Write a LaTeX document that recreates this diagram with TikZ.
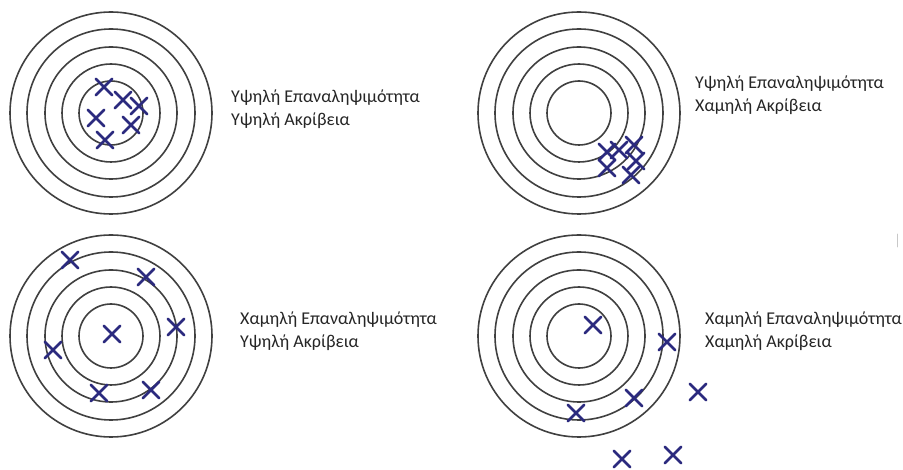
\documentclass[tikz,border=0pt]{standalone}
\usepackage{fontspec}
\setmainfont{Carlito}
\usetikzlibrary{shapes.misc}
\definecolor{trgRing}{HTML}{404040}
\definecolor{trgHit}{HTML}{2B2A7E}
\definecolor{trgText}{HTML}{262626}
\definecolor{trgTick}{HTML}{C8C8C8}
\begin{document}
\begin{tikzpicture}[x=1pt,y=-1pt,line cap=round,line join=round]
\path[fill=white] (0,0) rectangle (903,470);
\tikzset{ring/.style={draw=trgRing,line width=1.6pt},hit/.style={cross out,draw=trgHit,line width=2.8pt,minimum size=16.5pt,inner sep=0pt,outer sep=0pt},caption/.style={anchor=west,align=left,text=trgText,font=\fontsize{18}{23}\selectfont,inner sep=0pt}}
% four targets
\foreach \cx/\cy in {111/113,579/113,111/336,579/336}
  \foreach \r in {32,49,66,84,101}
    \draw[ring] (\cx,\cy) circle[radius=\r];
% hits, top left
\foreach \hx/\hy [count=\i] in {104/87,123/100,139/106,96/118,131/125,105/140}
  \node[hit] (hitA\i) at (\hx,\hy) {};
% hits, top right
\foreach \hx/\hy [count=\i] in {607/152,619/150,634/145,636/161,607/168,631/175}
  \node[hit] (hitB\i) at (\hx,\hy) {};
% hits, bottom left
\foreach \hx/\hy [count=\i] in {70/260,146/277,176/327,112/334,53/350,99/393,151/390}
  \node[hit] (hitC\i) at (\hx,\hy) {};
% hits, bottom right
\foreach \hx/\hy [count=\i] in {593/325,667/342,698/392,634/398,576/413,622/459,673/455}
  \node[hit] (hitD\i) at (\hx,\hy) {};
% captions
\node[caption] (capA) at (231,109) {Υψηλή Επαναληψιμότητα\\Υψηλή Ακρίβεια};
\node[caption] (capB) at (695,95) {Υψηλή Επαναληψιμότητα\\Χαμηλή Ακρίβεια};
\node[caption] (capC) at (240,331) {Χαμηλή Επαναληψιμότητα\\Υψηλή Ακρίβεια};
\node[caption] (capD) at (705,331) {Χαμηλή Επαναληψιμότητα\\Χαμηλή Ακρίβεια};
\draw[trgTick,line width=0.8pt] (897,234) -- (897,247);
\end{tikzpicture}
\end{document}
